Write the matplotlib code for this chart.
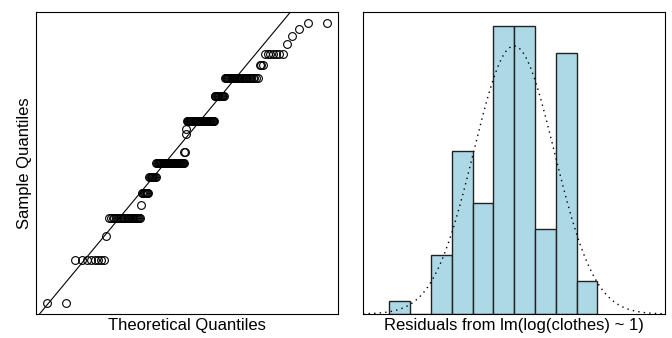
from statistics import NormalDist

import numpy as np
import matplotlib
matplotlib.use("Agg")
import matplotlib.pyplot as plt

# residuals from lm(log(clothes) ~ 1): distinct values and how often each occurs
resid_levels = [-1.61, -1.18, -0.94, -0.76, -0.63, -0.51, -0.35, -0.21, -0.10,
                0.08, 0.13, 0.21, 0.46, 0.64, 0.77, 0.88, 0.98, 1.06, 1.13, 1.19]
level_counts = [2, 8, 1, 24, 1, 8, 9, 42, 2, 1, 1, 42, 13, 30, 3, 7, 1, 1, 1, 2]
bin_edges = [-1.8, -1.5, -1.2, -0.9, -0.6, -0.3, 0.0, 0.3, 0.6, 0.9, 1.2]

plt.rcParams["font.family"] = ["Liberation Sans", "DejaVu Sans"]


def qq_points(y):
    # same plotting positions as R's ppoints()
    n = len(y)
    a = 3 / 8 if n <= 10 else 0.5
    p = (np.arange(1, n + 1) - a) / (n + 1 - 2 * a)
    z = np.array([NormalDist().inv_cdf(v) for v in p])
    return z, np.sort(y)


def qq_line(y):
    q1, q3 = np.quantile(y, [0.25, 0.75])
    z1, z3 = NormalDist().inv_cdf(0.25), NormalDist().inv_cdf(0.75)
    slope = (q3 - q1) / (z3 - z1)
    return q1 - slope * z1, slope


def plain_box(ax):
    ax.set_xticks([])
    ax.set_yticks([])
    for s in ax.spines.values():
        s.set_linewidth(0.8)
        s.set_color("black")


resid = np.repeat(resid_levels, level_counts)

fig = plt.figure(figsize=(6.72, 3.38), dpi=100)
ax1 = fig.add_axes([36 / 672, 24 / 338, 302 / 672, 302 / 338])
ax2 = fig.add_axes([363 / 672, 24 / 338, 302 / 672, 302 / 338])

# normal QQ plot
z, ys = qq_points(resid)
ax1.plot(z, ys, "o", mfc="none", mec="black", ms=5.6, mew=0.8)
ax1.margins(0.04)
b, m = qq_line(resid)
ax1.axline((0, b), slope=m, color="black", lw=0.8)
plain_box(ax1)
ax1.set_xlabel("Theoretical Quantiles", fontsize=12, labelpad=3)
ax1.set_ylabel("Sample Quantiles", fontsize=12, labelpad=3)

# histogram with normal density
mu, sd = resid.mean(), resid.std(ddof=1)
heights, _, _ = ax2.hist(resid, bins=bin_edges, density=True,
                         color="lightblue", edgecolor="#222222", lw=1.0)
lo, hi = mu - 3.75 * sd, mu + 3.75 * sd
xs = np.linspace(lo, hi, 400)
dens = [NormalDist(mu, sd).pdf(x) for x in xs]
ax2.plot(xs, dens, color="black", lw=1.0, linestyle=(0, (1, 3)))
ax2.set_xlim(lo, hi)
ax2.set_ylim(0, 1.05 * max(heights.max(), max(dens)))
plain_box(ax2)
ax2.set_xlabel("Residuals from lm(log(clothes) ~ 1)", fontsize=12, labelpad=3)

fig.savefig("out.png", dpi=100)
